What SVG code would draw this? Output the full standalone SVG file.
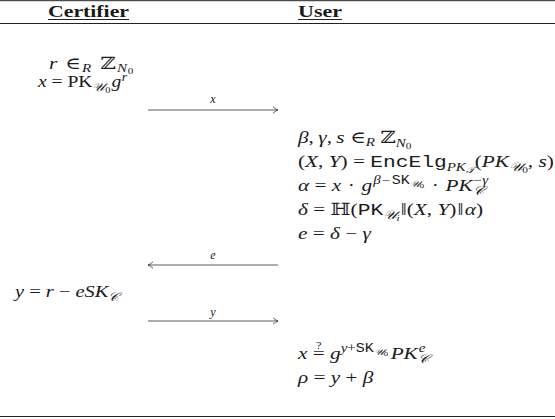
<svg xmlns="http://www.w3.org/2000/svg" width="555" height="419" viewBox="0 0 555 419">
<defs>
<marker id="ah" markerWidth="8" markerHeight="8" refX="6" refY="4" orient="auto" markerUnits="userSpaceOnUse">
<path d="M1,0.8 Q4,3.4 6,4 Q4,4.6 1,7.2" fill="none" stroke="#333" stroke-width="0.8"/>
</marker>
<style>
text{font-family:"Liberation Serif","DejaVu Serif",serif;font-size:17px;fill:#1a1a1a}
.h{font-weight:bold}
.i{font-style:italic}
.tt{font-family:"Liberation Mono","DejaVu Sans Mono",monospace}
.s{font-size:12px}
.ss{font-size:9px}
.sss{font-size:7px}
.cal{font-style:italic}
.lab{font-size:12px;font-style:italic}
.rule{stroke:#222;stroke-width:1}
.msg{stroke:#333;stroke-width:0.8;fill:none}
</style>
</defs>
<rect width="555" height="419" fill="#fff"/>
<g id="rules">
<line class="rule" x1="0" y1="0.7" x2="555" y2="0.7" stroke-width="1.3"/>
<line class="rule" x1="0" y1="23.5" x2="555" y2="23.5"/>
<line class="rule" x1="0" y1="416.5" x2="555" y2="416.5" stroke-width="1.2"/>
</g>
<g id="certifier">
<text class="h" x="48" y="16.5" textLength="81" lengthAdjust="spacingAndGlyphs">Certifier</text>
<line class="rule" x1="48" y1="19.5" x2="129" y2="19.5" stroke-width="0.8"/>
<text transform="translate(49,68.5) scale(1.25,1)"><tspan class="i">r</tspan><tspan dx="2"> ∈</tspan><tspan class="i s" dx="1" dy="3">R</tspan><tspan dx="3" dy="-3"> ℤ</tspan><tspan class="i s" dx="1" dy="3.5">N</tspan><tspan class="ss" dx="0.5" dy="1.5">0</tspan></text>
<text transform="translate(38,86.5) scale(1.15,1)"><tspan class="i">x</tspan> = PK<tspan class="s cal" font-size="11" dy="4">𝒰</tspan><tspan class="ss" dy="2">0</tspan><tspan class="i" dx="1" dy="-6">g</tspan><tspan class="s i" dx="0.5" dy="-6">r</tspan></text>
<text transform="translate(15,297) scale(1.2,1)"><tspan class="i">y</tspan> = <tspan class="i">r</tspan> − <tspan class="i">eSK</tspan><tspan class="s cal" font-size="11" dy="4">𝒞</tspan></text>
</g>
<g id="user">
<text class="h" x="298" y="16.5" textLength="44" lengthAdjust="spacingAndGlyphs">User</text>
<line class="rule" x1="298" y1="19.5" x2="342" y2="19.5" stroke-width="0.8"/>
<text transform="translate(298,143) scale(1.25,1)"><tspan class="i">β</tspan>,<tspan class="i" dx="3.5">γ</tspan>,<tspan class="i" dx="3.5">s</tspan> ∈<tspan class="i s" dy="3">R</tspan><tspan dy="-3"> ℤ</tspan><tspan class="i s" dy="4">N</tspan><tspan class="ss" dy="2">0</tspan></text>
<text transform="translate(298,167) scale(1.25,1)">(<tspan class="i">X</tspan>, <tspan class="i">Y</tspan>) = <tspan class="tt">EncElg</tspan><tspan class="i s" dy="4">PK</tspan><tspan class="ss cal" dy="2">𝒯</tspan><tspan dy="-6">(</tspan><tspan class="i">PK</tspan><tspan class="s cal" dy="4">𝒰</tspan><tspan class="ss" dy="2">0</tspan><tspan dy="-6">, </tspan><tspan class="i">s</tspan>)</text>
<text transform="translate(298,191) scale(1.25,1)"><tspan class="i">α</tspan> = <tspan class="i">x</tspan><tspan dx="1"> · </tspan><tspan class="i" dx="1">g</tspan><tspan class="s i" dx="1" dy="-7">β</tspan><tspan class="s" dx="1">−</tspan><tspan class="s tt" dx="1">SK</tspan><tspan class="ss cal" dy="3">𝒰</tspan><tspan class="sss" dy="1">0</tspan><tspan dx="2" dy="3"> · </tspan><tspan class="i" dx="1">PK</tspan><tspan class="s cal" dy="4">𝒞</tspan><tspan class="s" dx="-8" dy="-11">−</tspan><tspan class="s i">γ</tspan></text>
<text transform="translate(298,215) scale(1.25,1)"><tspan class="i">δ</tspan> = ℍ(<tspan class="tt">PK</tspan><tspan class="s cal" dy="4">𝒰</tspan><tspan class="ss i" dy="2">i</tspan><tspan dx="1" dy="-6">‖(</tspan><tspan class="i">X</tspan>, <tspan class="i">Y</tspan>)<tspan dx="1">‖</tspan><tspan class="i" dx="1">α</tspan>)</text>
<text transform="translate(298,239) scale(1.25,1)"><tspan class="i">e</tspan> = <tspan class="i">δ</tspan> − <tspan class="i">γ</tspan></text>
<text transform="translate(298,359) scale(1.25,1)"><tspan class="i">x</tspan> =<tspan font-size="10" dx="-7" dy="-10">?</tspan><tspan dx="2.6" dy="10"> </tspan><tspan class="i">g</tspan><tspan class="s i" dy="-7">y</tspan><tspan class="s">+</tspan><tspan class="s tt">SK</tspan><tspan class="ss cal" dy="3">𝒰</tspan><tspan class="sss" dy="1">0</tspan><tspan class="i" dx="2" dy="3">PK</tspan><tspan class="s cal" dy="4">𝒞</tspan><tspan class="s i" dx="-8" dy="-11">e</tspan></text>
<text transform="translate(298,383) scale(1.25,1)"><tspan class="i">ρ</tspan> = <tspan class="i">y</tspan> + <tspan class="i">β</tspan></text>
</g>
<g id="connectors">
<line class="msg" x1="148" y1="110" x2="278" y2="110" marker-end="url(#ah)"/>
<text class="lab" x="213" y="103" text-anchor="middle">x</text>
<line class="msg" x1="278" y1="265" x2="148" y2="265" marker-end="url(#ah)"/>
<text class="lab" x="213" y="259" text-anchor="middle">e</text>
<line class="msg" x1="148" y1="321" x2="278" y2="321" marker-end="url(#ah)"/>
<text class="lab" x="213" y="316" text-anchor="middle">y</text>
</g>
</svg>
